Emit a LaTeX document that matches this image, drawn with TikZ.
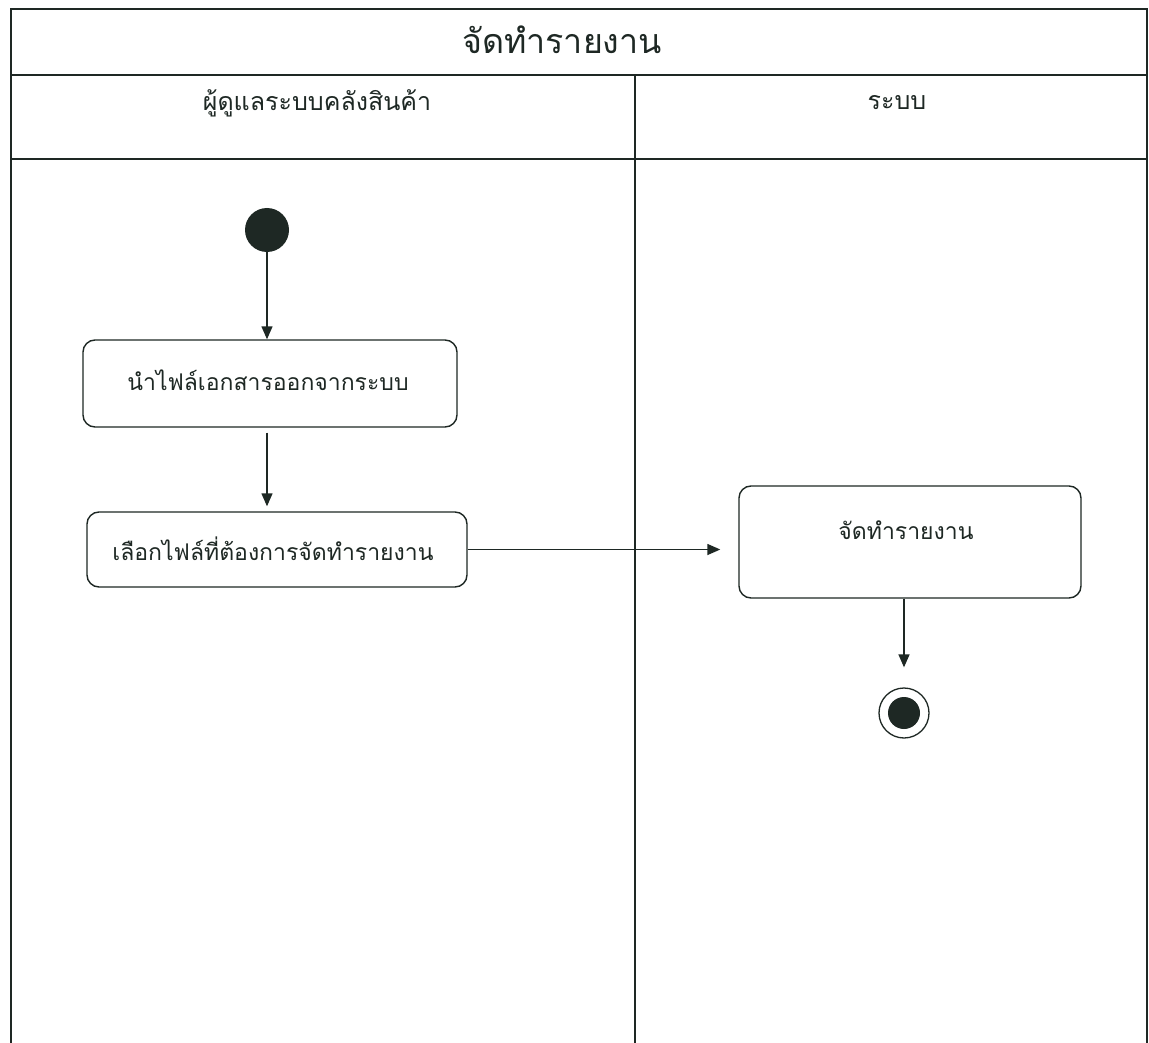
\documentclass[tikz,border=0pt]{standalone}
\usepackage{fontspec}
\newfontfamily\thaifont[Script=Thai]{Loma}
\usetikzlibrary{arrows.meta}
\definecolor{ink}{HTML}{1E2824}
\begin{document}
\begin{tikzpicture}[x=1pt,y=-1pt,
  frameline/.style={draw=ink, line width=1.8pt},
  action/.style={draw=ink, line width=1.4pt, rounded corners=12pt, fill=white},
  actiontext/.style={font=\thaifont\fontsize{23}{27}\selectfont, text=ink, inner sep=0pt},
  flow/.style={draw=ink, line width=1.4pt, -{Triangle[length=13pt,width=11pt]}},
  startdot/.style={circle, fill=ink, minimum size=44pt, inner sep=0pt},
  enddot/.style={circle, draw=ink, line width=1.3pt, minimum size=50pt, inner sep=0pt}
]
\useasboundingbox (0,0) rectangle (1149,1043);
\fill[white] (0,0) rectangle (1149,1043);

% swimlane frame, open at the bottom
\draw[frameline] (11,1043) -- (11,9) -- (1147,9) -- (1147,1043);
\draw[frameline] (11,75) -- (1147,75);
\draw[frameline] (11,159) -- (1147,159);
\draw[frameline] (635,75) -- (635,1043);

% titles
\node[font=\thaifont\fontsize{34}{40}\selectfont, text=ink] (title) at (562,40) {จัดทำรายงาน};
\node[font=\thaifont\fontsize{25}{30}\selectfont, text=ink] (laneA) at (317,103) {ผู้ดูแลระบบคลังสินค้า};
\node[font=\thaifont\fontsize{25}{30}\selectfont, text=ink] (laneB) at (897,103) {ระบบ};

% activity nodes
\node[startdot] (start) at (267,230) {};
\node[action, minimum width=374pt, minimum height=87pt] (export) at (270,383.5) {};
\node[actiontext] (exportlabel) at (268,380) {นำไฟล์เอกสารออกจากระบบ};
\node[action, minimum width=380pt, minimum height=75pt] (choose) at (277,549.5) {};
\node[actiontext] (chooselabel) at (273,549) {เลือกไฟล์ที่ต้องการจัดทำรายงาน};
\node[action, minimum width=342pt, minimum height=112pt] (report) at (910,542) {};
\node[actiontext] (reportlabel) at (906,530) {จัดทำรายงาน};
\node[enddot] (finish) at (904,713) {};
\fill[ink] (finish.center) circle (16pt);

% control flow
\draw[flow] (start) -- (start |- export.north);
\draw[flow, shorten <=5pt, shorten >=5pt] (export.south -| start) -- (choose.north -| start);
\draw[flow, shorten >=18pt] (choose.east) -- (report.west |- choose.east);
\draw[flow, shorten >=20pt] (report.south -| finish) -- (finish.north);
\end{tikzpicture}
\end{document}
